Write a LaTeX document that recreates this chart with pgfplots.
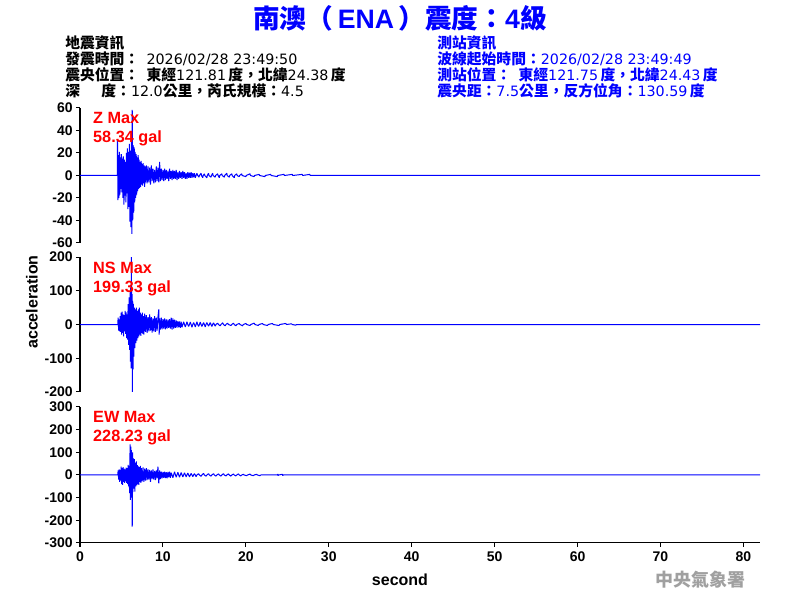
\documentclass[border=0pt]{standalone}
\usepackage{pgfplots}
\pgfplotsset{compat=1.18}
\usepackage{fontspec}
\setmainfont{Liberation Sans}
\newfontfamily\cjk{Noto Sans CJK TC}
\newfontfamily\dv{DejaVu Sans}
\definecolor{sigblue}{RGB}{0,0,255}
\definecolor{labred}{RGB}{255,0,0}
\definecolor{wm}{RGB}{160,160,160}
\newcommand{\C}[1]{{\cjk\bfseries\fontsize{11.1}{12}\selectfont #1}}

\pgfplotstableread{
t a
0 0
4.5 0
4.52 31
4.58 -22
4.64 18
4.7 -20
4.76 21
4.82 -17
4.88 16
4.94 -12
5.0 19
5.06 -15
5.12 15
5.18 -20
5.24 17
5.3 -26
5.36 14
5.42 -18
5.48 12
5.54 -24
5.6 20
5.66 -16
5.72 24
5.78 -30
5.84 21
5.9 -28
5.96 28
6.02 -41
6.08 22
6.14 -46
6.2 30
6.26 -52
6.3 58.34
6.36 -40
6.42 27
6.48 -33
6.54 25
6.6 -24
6.66 21
6.72 -20
6.78 19
6.84 -17
6.9 16
6.96 -14
7.02 18
7.08 -12
7.14 14
7.2 -11
7.26 12
7.32 -10
7.38 13
7.44 -8
7.5 10
7.56 -9
7.62 11
7.68 -7
7.74 9
7.8 -10
7.86 8
7.92 -6
8.0 9
8.1 -7
8.2 8
8.3 -6
8.4 7
8.5 -8
8.6 9
8.7 -5
8.8 6
8.9 -7
9.0 5
9.1 -6
9.2 8
9.3 -5
9.4 7
9.5 -6
9.6 12
9.7 -5
9.8 6
9.9 -4
10.0 5
10.1 -5
10.2 6
10.3 -4
10.4 5
10.5 -3
10.6 4
10.7 -5
10.8 6
10.9 -3
11.0 4
11.1 -4
11.2 5
11.3 -3
11.4 4
11.5 -3
11.6 5
11.7 -4
11.8 3
11.9 -3
12.0 4
12.1 -2
12.2 3
12.3 -3
12.4 4
12.5 -2
12.6 3
12.7 -3
12.8 2
12.9 -3
13.0 3
13.1 -2
13.2 2.5
13.3 -2
13.4 3
13.5 -2
13.6 2
13.7 -1.5
13.8 2
13.9 -2
14.0 0
14.1 2
14.2 0
14.35 -1.5
14.4 0
14.6 2
14.65 0
14.8 -2
14.85 0
15.0 1.5
15.05 0
15.3 -2
15.35 0
15.5 2
15.55 0
15.8 -1.5
15.85 0
16.0 2
16.05 0
16.3 -1.5
16.35 0
16.6 1.5
16.65 0
16.8 -2
16.85 0
17.1 1.5
17.15 0
17.4 -1.5
17.45 0
17.7 2
17.75 0
18.0 -1.5
18.05 0
18.3 1.5
18.35 0
18.6 -2
18.65 0
18.9 1.5
18.95 0
19.2 -1
19.25 0
19.5 1.5
19.55 0
20.0 -1
20.05 0
20.5 1.5
20.55 0
21.0 -1
21.05 0
21.6 1
21.65 0
22.3 -1
22.35 0
23.0 1
23.05 0
23.8 -1
23.85 0
24.6 1
24.65 0
25.6 1
25.65 0
26.8 1
26.85 0
27.7 1
27.75 0
82 0
}\zdata

\pgfplotstableread{
t a
0 0
4.55 0
4.6 20
4.66 -18
4.72 15
4.78 -20
4.84 25
4.9 -22
4.96 35
5.02 -30
5.08 38
5.14 -25
5.2 30
5.26 -35
5.32 28
5.38 -20
5.44 40
5.5 -28
5.56 36
5.62 -40
5.68 30
5.74 -45
5.8 60
5.86 -60
5.92 80
5.98 -75
6.04 95
6.08 -110
6.12 110
6.16 -130
6.2 199.33
6.24 -125
6.28 90
6.32 -200
6.36 70
6.4 -133
6.44 60
6.5 -95
6.56 50
6.62 -70
6.68 45
6.74 -55
6.8 50
6.86 -48
6.92 40
6.98 -40
7.04 45
7.1 -35
7.16 50
7.22 -30
7.28 35
7.34 -34
7.4 30
7.46 -25
7.52 35
7.58 -28
7.64 25
7.7 -30
7.8 32
7.9 -22
8.0 28
8.1 -25
8.2 22
8.3 -20
8.4 30
8.5 -18
8.6 22
8.7 -24
8.8 18
8.9 -20
9.0 25
9.1 -22
9.2 20
9.3 -18
9.4 22
9.5 45
9.55 -30
9.6 18
9.7 -15
9.8 20
9.9 -14
10.0 16
10.1 -12
10.2 18
10.3 -14
10.4 15
10.5 -12
10.6 14
10.7 -10
10.8 16
10.9 -12
11.0 20
11.1 -15
11.2 18
11.3 -12
11.4 14
11.5 -10
11.6 12
11.7 -9
11.8 10
11.9 -8
12.0 9
12.1 -10
12.2 8
12.3 -8
12.4 0
12.5 8
12.6 0
12.7 -7
12.8 0
12.9 8
13.0 0
13.1 -6
13.2 0
13.3 7
13.4 0
13.5 -8
13.6 0
13.7 6
13.8 0
13.9 -7
14.0 0
14.1 8
14.2 0
14.3 -6
14.4 0
14.5 7
14.6 0
14.7 -6
14.8 0
14.9 6
15.0 0
15.1 -7
15.2 0
15.3 6
15.4 0
15.5 -5
15.6 0
15.7 6
15.8 0
15.9 -6
16.0 0
16.1 5
16.2 0
16.3 -5
16.4 0
16.6 4
16.7 0
16.9 -4
17.0 0
17.2 5
17.3 0
17.5 -4
17.6 0
17.8 4
17.9 0
18.2 -3
18.3 0
18.5 4
18.6 0
18.8 -4
18.9 0
19.2 3
19.3 0
19.6 -4
19.7 0
20.0 3
20.1 0
20.5 -3
20.6 0
21.0 4
21.1 0
21.5 -3
21.6 0
22.0 3
22.1 0
22.6 -3
22.7 0
23.2 3
23.3 0
24.0 -3
24.1 0
24.8 3
24.9 0
25.5 2
25.6 0
26.0 -2
26.1 0
82 0
}\nsdata

\pgfplotstableread{
t a
0 0
4.55 0
4.6 20
4.66 -20
4.72 25
4.78 -30
4.84 22
4.9 -25
4.96 37
5.02 -40
5.08 30
5.14 -44
5.2 35
5.26 -30
5.32 28
5.38 -35
5.44 25
5.5 -28
5.56 32
5.62 -35
5.68 30
5.74 -40
5.8 45
5.86 -50
5.92 40
5.98 -80
6.04 135
6.08 -110
6.12 125
6.16 -95
6.2 110
6.24 -100
6.26 90
6.3 -228.23
6.34 100
6.38 -75
6.44 73
6.5 -60
6.56 70
6.62 -73
6.68 55
6.74 -50
6.8 60
6.86 -45
6.92 44
6.98 -40
7.04 38
7.1 -44
7.16 35
7.22 -30
7.28 40
7.34 -35
7.4 30
7.5 -28
7.6 33
7.7 -30
7.8 28
7.9 -25
8.0 30
8.1 -22
8.2 25
8.3 -20
8.4 22
8.5 -30
8.6 20
8.7 -18
8.8 25
8.9 -20
9.0 18
9.1 -22
9.2 20
9.3 -15
9.4 37
9.5 -37
9.6 20
9.7 -18
9.8 15
9.9 -15
10.0 14
10.1 -12
10.2 15
10.3 -14
10.4 12
10.5 -15
10.6 13
10.7 -10
10.8 15
10.9 -12
11.0 10
11.2 -12
11.4 14
11.6 -10
11.8 12
12.0 -10
12.2 11
12.4 -9
12.6 10
12.8 -8
13.0 9
13.2 -8
13.4 7
13.6 -7
13.7 0
13.8 6
13.9 0
14.0 -7
14.1 0
14.3 6
14.4 0
14.6 -6
14.7 0
14.9 7
15.0 0
15.2 -5
15.3 0
15.5 6
15.6 0
15.8 -5
15.9 0
16.1 6
16.2 0
16.4 -5
16.5 0
16.7 5
16.8 0
17.0 -5
17.1 0
17.3 6
17.4 0
17.6 -4
17.7 0
17.9 5
18.0 0
18.2 -5
18.3 0
18.5 4
18.6 0
18.8 -4
18.9 0
19.1 5
19.2 0
19.4 -4
19.5 0
19.7 3
19.8 0
20.1 -3
20.2 0
20.5 4
20.6 0
20.9 -3
21.0 0
21.3 3
21.4 0
21.7 -3
21.8 0
23.8 0
23.85 4
23.9 -3
23.95 0
24.4 3
24.45 -3
24.5 0
82 0
}\ewdata

\pgfplotsset{
  seis/.style={
    scale only axis,
    width=510pt,
    anchor=south west,
    xmin=0, xmax=82,
    axis y line*=left,
    tick align=outside,
    major tick length=3pt,
    every tick/.style={black, line width=0.75pt},
    axis line style={black, line width=0.75pt},
    /pgf/number format/assume math mode=true,
    ticklabel style={font=\fontsize{10.5}{12}\selectfont\bfseries},
    yticklabel style={xshift=1pt},
  },
}
\tikzset{
  sig/.style={sigblue, line width=0.75pt, line join=bevel},
  lab/.style={anchor=west, text=labred, font=\fontsize{12.2}{14}\selectfont\bfseries, inner sep=0pt},
}

\begin{document}
\begin{tikzpicture}
\path[use as bounding box] (0,0) rectangle (600pt,450pt);

% Title
\node[text=sigblue, inner sep=0pt] at (300pt,436.5pt)
  {\fontsize{20}{22}\selectfont{\cjk\bfseries 南澳（}\,{\bfseries ENA}\,{\cjk\bfseries ）震度：}{\bfseries 4}{\cjk\bfseries 級}};

% Header left (black)
\begin{scope}[every node/.style={anchor=west, inner sep=0pt, font=\dv\fontsize{10.7}{12}\selectfont}]
\node at (48.75pt,417.75pt) {\C{地震資訊}};
\node at (48.75pt,405.75pt) {\C{發震時間：}\hspace{5.5pt}2026/02/28 23:49:50};
\node at (48.75pt,393.75pt) {\C{震央位置：}\hspace{5.5pt}\C{東經}121.81\,\C{度，北緯}24.38\,\C{度}};
\node at (48.75pt,381.75pt) {\C{深}\hspace{16pt}\C{度：}12.0\C{公里，芮氏規模：}4.5};
\end{scope}
% Header right (blue)
\begin{scope}[every node/.style={anchor=west, inner sep=0pt, text=sigblue, font=\dv\fontsize{10.7}{12}\selectfont}]
\node at (327.75pt,417.75pt) {\C{測站資訊}};
\node at (327.75pt,405.75pt) {\C{波線起始時間：}2026/02/28 23:49:49};
\node at (327.75pt,393.75pt) {\C{測站位置：}\hspace{5.5pt}\C{東經}121.75\,\C{度，北緯}24.43\,\C{度}};
\node at (327.75pt,381.75pt) {\C{震央距：}7.5\C{公里，反方位角：}130.59\,\C{度}};
\end{scope}

% Z panel
\begin{axis}[seis, at={(60pt,267.75pt)}, height=101.25pt,
  ymin=-60, ymax=60, ytick={-60,-40,...,60}, axis x line=none]
  \addplot[sig] table[x=t,y=a] {\zdata};
  \node[lab] at (rel axis cs:0.019,0.926) {Z Max};
  \node[lab] at (rel axis cs:0.019,0.778) {58.34 gal};
\end{axis}

% NS panel
\begin{axis}[seis, at={(60pt,156pt)}, height=101.25pt,
  ymin=-200, ymax=200, ytick={-200,-100,0,100,200}, axis x line=none]
  \addplot[sig] table[x=t,y=a] {\nsdata};
  \node[lab] at (rel axis cs:0.019,0.918) {NS Max};
  \node[lab] at (rel axis cs:0.019,0.77) {199.33 gal};
\end{axis}

% EW panel
\begin{axis}[seis, at={(60pt,42.75pt)}, height=102pt,
  ymin=-300, ymax=300, ytick={-300,-200,...,300},
  axis x line*=bottom, xtick={0,10,...,80}]
  \addplot[sig] table[x=t,y=a] {\ewdata};
  \node[lab] at (rel axis cs:0.019,0.926) {EW Max};
  \node[lab] at (rel axis cs:0.019,0.78) {228.23 gal};
\end{axis}

% axis labels
\node[font=\fontsize{12}{14}\selectfont\bfseries] at (300pt,15pt) {second};
\node[font=\fontsize{12}{14}\selectfont\bfseries, rotate=90] at (24pt,223.5pt) {acceleration};

% watermark
\node[text=wm, font=\fontsize{13.5}{16}\selectfont] at (525pt,15pt) {{\cjk\bfseries 中央氣象署}};
\end{tikzpicture}
\end{document}
